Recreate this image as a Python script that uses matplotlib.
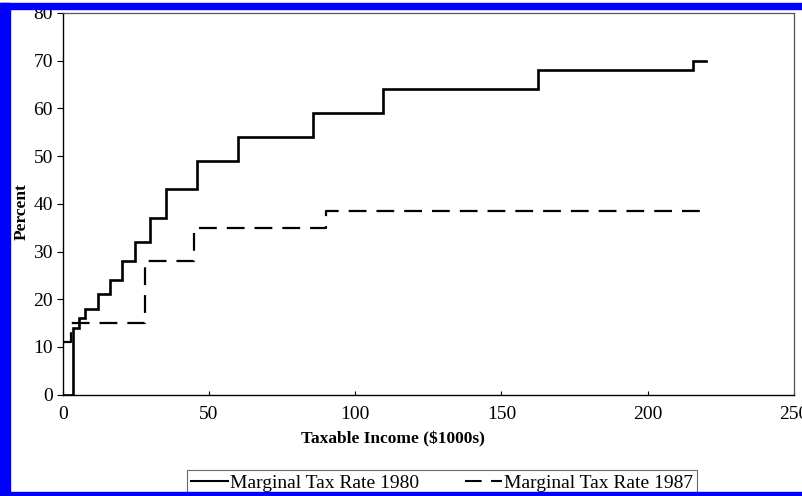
import numpy as np
import matplotlib
matplotlib.use('Agg')
import matplotlib.pyplot as plt
from matplotlib.patches import Rectangle

# Bracket starts (taxable income, $1000s) and marginal rates (%)
income_1980 = [0, 3.4, 5.5, 7.6, 11.9, 16.0, 20.2, 24.6, 29.9, 35.2, 45.8,
               60.0, 85.6, 109.4, 162.4, 215.4, 220]
rate_1980 = [0, 14, 16, 18, 21, 24, 28, 32, 37, 43, 49, 54, 59, 64, 68, 70, 70]

income_1987 = [0, 3, 28, 45, 90, 220]
rate_1987 = [11, 15, 28, 35, 38.5, 38.5]

x_ticks = [0, 50, 100, 150, 200, 250]
y_ticks = [0, 10, 20, 30, 40, 50, 60, 70, 80]

plt.rcParams['font.family'] = ['Liberation Serif', 'DejaVu Serif']

fig = plt.figure(figsize=(8.02, 4.96), dpi=100)
ax = fig.add_axes([0.0782, 0.2044, 0.9118, 0.7694])

ax.step(income_1980, rate_1980, where='post', color='black', lw=1.9,
        label='Marginal Tax Rate 1980', solid_joinstyle='miter')
line87, = ax.step(income_1987, rate_1987, where='post', color='black', lw=1.6,
                  label='Marginal Tax Rate 1987')
line87.set_dashes((8, 4.5))

ax.set_xlim(0, 250)
ax.set_ylim(0, 80)
ax.set_xticks(x_ticks)
ax.set_yticks(y_ticks)
ax.tick_params(axis='x', direction='in', length=3, labelsize=14, pad=8.5)
ax.tick_params(axis='y', direction='out', length=4, labelsize=14, pad=3)

for side in ['left', 'bottom']:
    ax.spines[side].set_color('black')
    ax.spines[side].set_linewidth(1.0)
for side in ['top', 'right']:
    ax.spines[side].set_color('#555555')
    ax.spines[side].set_linewidth(0.9)

ax.set_xlabel('Taxable Income ($1000s)', fontsize=12.5, fontweight='bold')
ax.xaxis.set_label_coords(0.452, -0.095)
ax.set_ylabel('Percent', fontsize=12.5, fontweight='bold')
ax.yaxis.set_label_coords(-0.045, 0.48)

leg = fig.legend(loc='center', bbox_to_anchor=(442 / 802, 1 - 483 / 496), ncol=2,
                 fontsize=14, frameon=True, fancybox=False, handlelength=1.9,
                 handletextpad=0.1, columnspacing=2.4, borderpad=0.2,
                 borderaxespad=0, edgecolor='#444444')
leg.get_frame().set_linewidth(0.8)
for h in leg.get_lines():
    h.set_linewidth(1.5)

# blue scan border
W, H = 802, 496
blue = '#0000ff'
for (x0, y0, w, h) in [(0, 3, 10, 493), (0, 3, 802, 6), (0, 492, 802, 4)]:
    fig.patches.append(Rectangle((x0 / W, 1 - (y0 + h) / H), w / W, h / H,
                                 transform=fig.transFigure, color=blue,
                                 zorder=10))

plt.savefig('out.png', dpi=100)
